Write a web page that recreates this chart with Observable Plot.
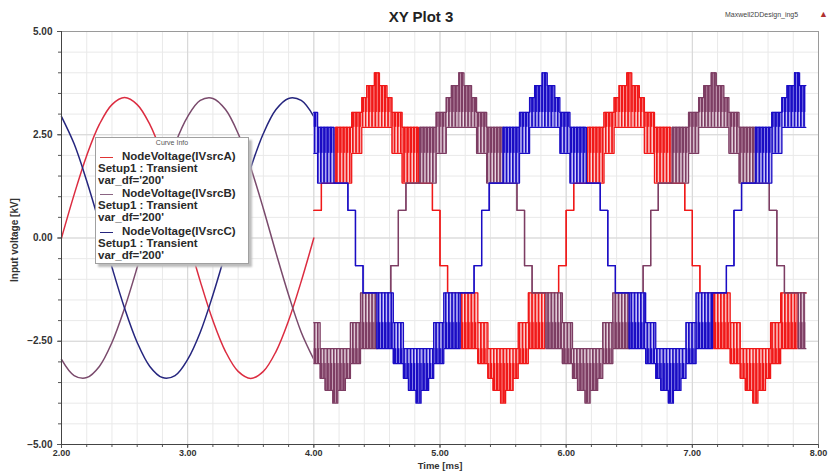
<!DOCTYPE html>
<html><head><meta charset="utf-8">
<script src="https://cdn.jsdelivr.net/npm/d3@7"></script>
<script src="https://cdn.jsdelivr.net/npm/@observablehq/plot@0.6"></script>
<style>
body{margin:0;background:#fff;}
#wrap{position:relative;width:829px;height:472px;font-family:"Liberation Sans",Arial,sans-serif;overflow:hidden;}
#title{position:absolute;left:0;width:842px;top:8px;text-align:center;font-weight:bold;font-size:15px;color:#222;}
#design{position:absolute;left:725px;top:11px;font-size:7px;color:#444;}
#tri{position:absolute;left:819px;top:9px;font-size:9px;color:#b03030;}
#legend{position:absolute;left:95px;top:137px;width:152px;height:125px;border:1px solid #a0a0a0;background:#fff;box-shadow:3px 3px 2px #bdbdbd;}
#legend .t{position:absolute;white-space:nowrap;font-weight:bold;font-size:11.5px;line-height:11px;height:11px;color:#2a2a2a;}
#legend .cap{position:absolute;left:0;width:152px;top:1px;text-align:center;font-size:7px;line-height:8px;color:#555;}
#legend .sw{position:absolute;left:4px;width:13px;height:0;border-top:1.5px solid;}
</style></head><body>
<div id="wrap">
  <div id="title">XY Plot 3</div>
  <div id="design">Maxwell2DDesign_ing5</div>
  <div id="tri">&#9650;</div>
</div>
<script>
// ---------- data ----------
const sineTime = [2.0,2.1,2.2,2.3,2.4,2.5,2.6,2.7,2.8,2.9,3.0,3.1,3.2,3.3,3.4,3.5,3.6,3.7,3.8,3.9,4.0];
const voltA = [0,1.05,2.0,2.75,3.23,3.4,3.23,2.75,2.0,1.05,0,-1.05,-2.0,-2.75,-3.23,-3.4,-3.23,-2.75,-2.0,-1.05,0];
const voltB = [-2.94,-3.33,-3.38,-3.11,-2.53,-1.7,-0.71,0.36,1.38,2.28,2.94,3.33,3.38,3.11,2.53,1.7,0.71,-0.36,-1.38,-2.28,-2.94];
const voltC = [2.94,2.28,1.38,0.36,-0.71,-1.7,-2.53,-3.11,-3.38,-3.33,-2.94,-2.28,-1.38,-0.36,0.71,1.7,2.53,3.11,3.38,3.33,2.94];

// staircase half-cycle profile (offset in ms from the peak, levels in kV)
const stepEdges = [-0.5,-0.44,-0.33,-0.2,-0.12,-0.08,-0.02,0.02,0.08,0.12,0.2,0.33,0.44,0.5];
const stepHigh  = [0.67,1.33,2.68,3.04,3.40,3.69,4.00,3.69,3.40,3.04,2.68,1.33,0.67];
const stepLow   = [0.67,1.33,1.33,2.05,2.68,2.68,2.68,2.68,2.68,2.05,1.33,1.33,0.67];
const stepDense = [0.67,1.33,2.05,2.68,3.04,3.04,3.04,3.04,3.04,2.68,2.05,1.33,0.67];

// half-cycle peak times [ms] and polarity for each source
const halfA = [4.5,5.5,6.5,7.5];          const signA = [1,-1,1,-1];
const halfB = [4.17,5.17,6.17,7.17,8.17]; const signB = [-1,1,-1,1,-1];
const halfC = [3.83,4.83,5.83,6.83,7.83]; const signC = [1,-1,1,-1,1];
const stepStart = 4.0, stepEnd = 7.9;

const xTicks = [2,3,4,5,6,7,8];
const yTicks = [-5,-2.5,0,2.5,5];
const legendNames = ["NodeVoltage(IVsrcA)","NodeVoltage(IVsrcB)","NodeVoltage(IVsrcC)"];

// ---------- build ----------
const col = {A:"#f01818", B:"#7d3d63", C:"#1a0cc4"};
const sineCol = {A:"#dc2c40", B:"#7a4a6c", C:"#25257e"};
const legendCol = ["#e03434","#8a6482","#25257e"];

function segs(centers, signs){
  const out=[];
  centers.forEach((c,k)=>{
    const s=signs[k];
    for(let i=0;i<stepHigh.length;i++){
      const t0=Math.max(c+stepEdges[i],stepStart), t1=Math.min(c+stepEdges[i+1],stepEnd);
      if(t1<=t0) continue;
      if(s>0) out.push({t0,t1,hi:stepHigh[i],lo:stepLow[i],dlo:stepDense[i],dhi:stepHigh[i]});
      else out.push({t0,t1,hi:-stepLow[i],lo:-stepHigh[i],dlo:-stepHigh[i],dhi:-stepDense[i]});
    }
  });
  return out;
}
function edge(s,key){ return s.flatMap(d=>[{t:d.t0,v:d[key]},{t:d.t1,v:d[key]}]); }
const sine = k => sineTime.map((t,i)=>({t, v:k[i]}));

const phases = [
  {id:"A", s:segs(halfA,signA)},
  {id:"B", s:segs(halfB,signB)},
  {id:"C", s:segs(halfC,signC)}
];

const xMinor = d3.range(2,8.001,0.2).map(v=>+v.toFixed(2));
const yMinor = d3.range(-5,5.001,0.5).map(v=>+v.toFixed(2));

const marks = [
  Plot.ruleX(xMinor,{stroke:"#e9e9e9",strokeWidth:1}),
  Plot.ruleY(yMinor,{stroke:"#e9e9e9",strokeWidth:1}),
  Plot.ruleX(xTicks,{stroke:"#d6d6d6",strokeWidth:1}),
  Plot.ruleY(yTicks,{stroke:"#d6d6d6",strokeWidth:1}),
  Plot.line(sine(voltA),{x:"t",y:"v",stroke:sineCol.A,strokeWidth:1.5,curve:"catmull-rom"}),
  Plot.line(sine(voltB),{x:"t",y:"v",stroke:sineCol.B,strokeWidth:1.5,curve:"catmull-rom"}),
  Plot.line(sine(voltC),{x:"t",y:"v",stroke:sineCol.C,strokeWidth:1.5,curve:"catmull-rom"})
];
for(const p of phases){
  marks.push(Plot.rect(p.s.filter(d=>d.hi>d.lo),{x1:"t0",x2:"t1",y1:"lo",y2:"hi",fill:`url(#sp${p.id})`}));
  marks.push(Plot.rect(p.s.filter(d=>d.dhi>d.dlo),{x1:"t0",x2:"t1",y1:"dlo",y2:"dhi",fill:`url(#dp${p.id})`}));
  marks.push(Plot.line(edge(p.s,"hi"),{x:"t",y:"v",stroke:col[p.id],strokeWidth:1.3}));
  marks.push(Plot.line(edge(p.s,"lo"),{x:"t",y:"v",stroke:col[p.id],strokeWidth:1.3}));
}
marks.push(
  Plot.frame({stroke:"#9a9a9a"}),
  Plot.axisX(xMinor,{tickSize:3,text:null,stroke:"#555"}),
  Plot.axisY(yMinor,{tickSize:3,text:null,stroke:"#555"}),
  Plot.axisX(xTicks,{tickSize:4,tickFormat:d3.format(".2f"),tickPadding:1,fontSize:9,fontWeight:"bold",fill:"#333",stroke:"#555",label:null}),
  Plot.axisY(yTicks,{tickSize:4,tickFormat:d3.format(".2f"),tickPadding:5,fontSize:10,fontWeight:"bold",fill:"#333",stroke:"#555",label:null}),
  Plot.ruleY([-5],{stroke:"#444"}),
  Plot.ruleX([2],{stroke:"#444"})
);

const chart = Plot.plot({
  width:829, height:472,
  marginLeft:61, marginRight:11, marginTop:31, marginBottom:28,
  style:{fontFamily:"'Liberation Sans', Arial, sans-serif", background:"transparent", overflow:"visible"},
  x:{domain:[2,8]},
  y:{domain:[-5,5]},
  marks
});

// stripe patterns emulating the switching ripple
const defs = d3.select(chart).insert("defs",":first-child");
const pat = (id,color,gap,period,w)=>{
  const p = defs.append("pattern").attr("id",id).attr("patternUnits","userSpaceOnUse").attr("width",period).attr("height",10);
  p.append("rect").attr("width",period).attr("height",10).attr("fill",gap);
  p.append("rect").attr("width",w).attr("height",10).attr("fill",color);
};
pat("spA",col.A,"#ffe2e2",3.2,1.9); pat("dpA",col.A,"#ffb4b4",3.2,2.5);
pat("spB",col.B,"#efdfe8",3.2,1.9); pat("dpB",col.B,"#cfa8be",3.2,2.5);
pat("spC",col.C,"#dcdaff",3.2,1.9); pat("dpC",col.C,"#a09cf2",3.2,2.5);

// axis titles
const svg = d3.select(chart);
svg.append("text").attr("x",440).attr("y",469).attr("text-anchor","middle")
  .attr("font-size",9.5).attr("font-weight","bold").attr("fill","#333").text("Time [ms]");
svg.append("text").attr("transform","translate(18,240) rotate(-90)").attr("text-anchor","middle")
  .attr("font-size",10).attr("font-weight","bold").attr("fill","#333").text("Input voltage [kV]");

const wrap = document.getElementById("wrap");
chart.style.position="absolute"; chart.style.left="0"; chart.style.top="0";
wrap.insertBefore(chart, wrap.firstChild);

// legend (Curve Info)
const lg = document.createElement("div"); lg.id="legend";
let html = `<div class="cap">Curve Info</div>`;
const centers=[19,56,94];
legendNames.forEach((n,i)=>{
  const c=centers[i];
  html += `<div class="sw" style="top:${c}px;border-color:${legendCol[i]}"></div>`;
  html += `<div class="t" style="left:26px;top:${c-6}px">${n}</div>`;
  html += `<div class="t" style="left:2px;top:${c+6}px">Setup1 : Transient</div>`;
  html += `<div class="t" style="left:2px;top:${c+18}px">var_df='200'</div>`;
});
lg.innerHTML = html;
wrap.appendChild(lg);
</script>
</body></html>
